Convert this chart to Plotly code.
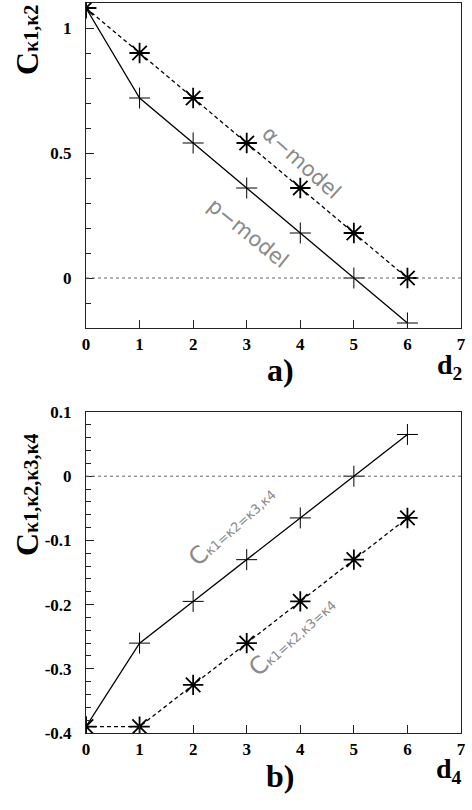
import plotly.graph_objects as go
from plotly.subplots import make_subplots

d_vals = [0, 1, 2, 3, 4, 5, 6]
p_model = [1.08, 0.72, 0.54, 0.36, 0.18, 0.0, -0.18]
alpha_model = [1.08, 0.90, 0.72, 0.54, 0.36, 0.18, 0.0]
c_1_2_3_4 = [-0.39, -0.26, -0.195, -0.13, -0.065, 0.0, 0.065]
c_12_34 = [-0.39, -0.39, -0.325, -0.26, -0.195, -0.13, -0.065]

x_ticks = [0, 1, 2, 3, 4, 5, 6, 7]
x_text = ["0", "1", "2", "3", "4", "5", "6", "7"]
top_y_ticks = [0, 0.5, 1]
top_y_text = ["0", "0.5", "1"]
bot_y_ticks = [-0.4, -0.3, -0.2, -0.1, 0, 0.1]
bot_y_text = ["-0.4", "-0.3", "-0.2", "-0.1", "0", "0.1"]

W, H = 472, 810
ML, MR, MT, MB = 86, 11, 3, 77
PW, PH = W - ML - MR, H - MT - MB


def px(xp):
    return (xp - ML) / PW


def py(yp):
    return (H - MB - yp) / PH


def bold(labels):
    return ["<b>%s</b>" % t for t in labels]


fig = make_subplots(rows=2, cols=1)
SERIF = "Liberation Serif"
LIGHT = "DejaVu Sans"

plus_marker = dict(symbol="cross-thin-open", size=15, line=dict(color="black", width=1))
star_marker = dict(symbol="asterisk-open", size=17, line=dict(color="black", width=1.8))

fig.add_trace(go.Scatter(x=d_vals, y=p_model, mode="lines+markers",
                         line=dict(color="black", width=1.3), marker=plus_marker), row=1, col=1)
fig.add_trace(go.Scatter(x=d_vals, y=alpha_model, mode="lines+markers",
                         line=dict(color="black", width=1.3, dash="4px,3px"), marker=star_marker), row=1, col=1)
fig.add_trace(go.Scatter(x=d_vals, y=c_1_2_3_4, mode="lines+markers",
                         line=dict(color="black", width=1.3), marker=plus_marker), row=2, col=1)
fig.add_trace(go.Scatter(x=d_vals, y=c_12_34, mode="lines+markers",
                         line=dict(color="black", width=1.3, dash="4px,3px"), marker=star_marker), row=2, col=1)

axis_common = dict(showline=True, linecolor="#222", linewidth=1, mirror=True,
                   ticks="inside", tickcolor="#222", showgrid=False, zeroline=False,
                   tickfont=dict(family=SERIF, size=17, color="black"))

for r in (1, 2):
    fig.update_xaxes(range=[0, 7], tickvals=x_ticks, ticktext=bold(x_text), ticklen=8,
                     ticklabelstandoff=1, row=r, col=1, **axis_common)

fig.update_yaxes(range=[-0.2, 1.1], tickvals=top_y_ticks, ticktext=bold(top_y_text),
                 ticklen=8, ticklabelstandoff=10,
                 minor=dict(dtick=0.1, tick0=0, ticklen=5, ticks="inside", tickcolor="#222"),
                 row=1, col=1, **axis_common)
fig.update_yaxes(range=[-0.4, 0.1], tickvals=bot_y_ticks, ticktext=bold(bot_y_text),
                 ticklen=8, ticklabelstandoff=10,
                 minor=dict(dtick=0.02, tick0=0, ticklen=5, ticks="inside", tickcolor="#222"),
                 row=2, col=1, **axis_common)

fig.update_layout(
    xaxis=dict(domain=[0, 1]), xaxis2=dict(domain=[0, 1]),
    yaxis=dict(domain=[py(328), 1.0]), yaxis2=dict(domain=[0, py(412)]),
)

for xr, yr in (("x domain", "y"), ("x2 domain", "y2")):
    fig.add_shape(type="line", xref=xr, yref=yr, x0=0, x1=1, y0=0, y1=0,
                  line=dict(color="#666", width=1, dash="dot"))

ann = []


def paper_text(text, xp, yp, size, angle=0):
    ann.append(dict(text=text, x=px(xp), y=py(yp), xref="paper", yref="paper",
                    xanchor="center", yanchor="middle", textangle=angle, showarrow=False,
                    font=dict(family=SERIF, size=size, color="black")))


paper_text("<b>C</b><span style='font-size:20px'><b>κ1,κ2</b></span>", 27, 40, 32, -90)
paper_text("<b>C</b><span style='font-size:20px'><b>κ1,κ2,κ3,κ4</b></span>", 27, 495, 32, -90)
paper_text("<b>a)</b>", 280, 370, 32)
paper_text("<b>d<sub>2</sub></b>", 449, 366, 28)
paper_text("<b>b)</b>", 280, 776, 32)
paper_text("<b>d<sub>4</sub></b>", 449, 771, 28)

ann.append(dict(text="α−model", x=4.03, y=0.46, xref="x", yref="y", textangle=42,
                showarrow=False, font=dict(family=LIGHT, size=21, color="#8a8a8a")))
ann.append(dict(text="p−model", x=3.02, y=0.18, xref="x", yref="y", textangle=39,
                showarrow=False, font=dict(family=LIGHT, size=21, color="#8a8a8a")))
ann.append(dict(text="C<span style='font-size:13px'>κ1=κ2=κ3,κ4</span>", x=2.72, y=-0.078,
                xref="x2", yref="y2", textangle=-42, showarrow=False,
                font=dict(family=LIGHT, size=24, color="#8a8a8a")))
ann.append(dict(text="C<span style='font-size:13px'>κ1=κ2,κ3=κ4</span>", x=3.85, y=-0.249,
                xref="x2", yref="y2", textangle=-42, showarrow=False,
                font=dict(family=LIGHT, size=24, color="#8a8a8a")))

fig.update_layout(width=W, height=H, margin=dict(l=ML, r=MR, t=MT, b=MB, autoexpand=False),
                  paper_bgcolor="white", plot_bgcolor="white", annotations=ann,
                  showlegend=False)

fig.write_html("out.html", config={"displayModeBar": False},
               post_script="document.body.style.margin='0';document.body.style.padding='0';")
